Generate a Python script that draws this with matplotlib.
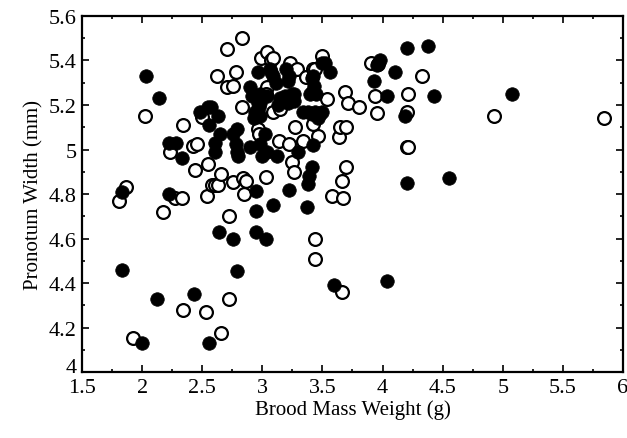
"""
Brood mass weight vs pronotum width scatter (filled vs open groups).
"""

import matplotlib
matplotlib.use("Agg")
import matplotlib.pyplot as plt
from matplotlib.ticker import MultipleLocator

# filled circles: (brood mass weight g, pronotum width mm)
filled_x = [
    1.83, 1.83, 2.00, 2.03, 2.14, 2.12, 2.22, 2.22, 2.28, 2.33, 2.43, 2.56,
    2.48, 2.55, 2.63, 2.56, 2.65, 2.61, 2.61, 2.57, 2.64, 2.76, 2.79,
    2.79, 2.76, 2.78, 2.79, 2.80, 2.90, 2.90, 2.91, 2.96, 2.94, 2.93, 2.96,
    2.98, 2.98, 3.04, 2.98, 2.97, 3.02, 2.98, 3.04, 3.00, 3.12,
    2.95, 2.95, 2.95, 3.03, 3.09, 3.22, 3.37, 3.38, 3.39, 3.41,
    3.30, 3.42, 3.34, 3.41, 3.48, 3.38, 3.44, 3.50, 3.46,
    3.41, 3.45, 3.40, 3.26, 3.15, 3.19, 3.25, 3.26, 3.21, 3.13,
    3.41, 3.43, 3.42, 3.50, 3.56, 3.52, 3.20, 3.22, 3.21,
    3.06, 3.09, 3.11, 3.07, 3.60, 3.93, 3.95, 3.98, 4.04, 4.10, 4.04,
    4.19, 4.20, 4.20, 4.38, 4.43, 4.55, 5.08,
]
filled_y = [
    4.81, 4.46, 4.13, 5.33, 5.23, 4.33, 4.80, 5.03, 5.03, 4.96, 4.35, 4.13,
    5.17, 5.19, 5.15, 5.11, 5.07, 4.99, 5.03, 5.19, 4.63, 4.60, 4.455,
    5.09, 5.07, 5.025, 4.99, 4.97, 5.01, 5.28, 5.24, 5.21, 5.17, 5.14, 5.35,
    5.15, 5.25, 5.24, 5.21, 5.19, 5.07, 5.025, 4.99, 4.97, 4.97,
    4.815, 4.725, 4.63, 4.60, 4.75, 4.82, 4.74, 4.845, 4.88, 4.92,
    4.99, 5.02, 5.17, 5.16, 5.16, 5.17, 5.17, 5.17, 5.14,
    5.26, 5.25, 5.25, 5.25, 5.23, 5.24, 5.25, 5.22, 5.21, 5.20,
    5.32, 5.285, 5.33, 5.39, 5.35, 5.39, 5.36, 5.33, 5.31,
    5.36, 5.33, 5.30, 5.35, 4.39, 5.31, 5.38, 5.40, 5.24, 5.35, 4.41,
    5.15, 5.455, 4.85, 5.465, 5.24, 4.87, 5.25,
]

# open circles
open_x = [
    1.81, 1.87, 1.92, 2.02, 2.17, 2.27, 2.33, 2.34, 2.34, 2.23, 2.42, 2.46,
    2.44, 2.53, 2.54, 2.55, 2.50, 2.58, 2.61, 2.63, 2.66, 2.66, 2.72, 2.72,
    2.76, 2.84, 2.86, 2.85, 2.62, 2.71, 2.83, 2.78, 2.71, 2.76, 2.83, 2.96,
    2.97, 2.99, 3.04, 3.07, 3.09, 3.04, 3.03, 3.09, 3.15, 3.03, 3.14, 3.22,
    3.27, 3.34, 3.46, 3.42, 3.25, 3.26, 3.23, 3.29, 3.36, 3.42, 3.44, 3.50,
    3.54, 3.44, 3.44, 3.58, 3.67, 3.66, 3.70, 3.66, 3.64, 3.65, 3.70, 3.69,
    3.71, 3.80, 3.90, 3.96, 3.94, 3.95, 4.20, 4.21, 4.20, 4.21, 4.33, 4.93,
    5.84,
]
open_y = [
    4.77, 4.83, 4.155, 5.15, 4.72, 4.78, 4.78, 4.28, 5.11, 4.99, 5.015, 5.025,
    4.91, 4.27, 4.79, 4.935, 5.146, 4.84, 4.84, 4.84, 4.89, 4.175, 4.70, 4.33,
    4.855, 4.87, 4.86, 4.80, 5.33, 5.45, 5.50, 5.35, 5.28, 5.285, 5.19, 5.09,
    5.07, 5.41, 5.44, 5.40, 5.41, 5.28, 5.25, 5.17, 5.18, 4.875, 5.04, 5.025,
    5.10, 5.04, 5.06, 5.115, 4.945, 4.90, 5.39, 5.36, 5.325, 5.36, 5.36, 5.42,
    5.225, 4.60, 4.51, 4.79, 4.78, 4.86, 4.92, 4.36, 5.056, 5.10, 5.10, 5.26,
    5.21, 5.19, 5.39, 5.385, 5.24, 5.165, 5.01, 5.01, 5.17, 5.25, 5.33, 5.15,
    5.14,
]

x_ticks = [1.5, 2, 2.5, 3, 3.5, 4, 4.5, 5, 5.5, 6]
x_tick_labels = ["1.5", "2", "2.5", "3", "3.5", "4", "4.5", "5", "5.5", "6"]
y_ticks = [4, 4.2, 4.4, 4.6, 4.8, 5, 5.2, 5.4, 5.6]
y_tick_labels = ["4", "4.2", "4.4", "4.6", "4.8", "5", "5.2", "5.4", "5.6"]

plt.rcParams["font.family"] = ["Liberation Serif", "DejaVu Serif"]

fig = plt.figure(figsize=(6.27, 4.39), dpi=100)
ax = fig.add_axes([0.1308, 0.1503, 0.8628, 0.811])

ax.scatter(open_x, open_y, s=85, facecolors="white", edgecolors="black",
           linewidths=1.6, zorder=2)
ax.scatter(filled_x, filled_y, s=95, c="black", edgecolors="black",
           linewidths=0.5, zorder=3)

ax.set_xlim(1.5, 6)
ax.set_ylim(4, 5.6)
ax.set_xticks(x_ticks, x_tick_labels)
ax.set_yticks(y_ticks, y_tick_labels)
ax.xaxis.set_minor_locator(MultipleLocator(0.25))
ax.yaxis.set_minor_locator(MultipleLocator(0.1))
ax.tick_params(which="both", direction="in", top=True, right=True,
               labelsize=16, width=1.2)
ax.tick_params(which="major", length=5)
ax.tick_params(which="minor", length=2.5)
ax.tick_params(axis="x", which="major", pad=4)
ax.tick_params(axis="y", which="major", pad=4)
for sp in ax.spines.values():
    sp.set_linewidth(1.6)

# lowest y label sits on its baseline so it clears the "1.5" below it
ax.get_yticklabels()[0].set_verticalalignment("baseline")

ax.set_xlabel("Brood Mass Weight (g)", fontsize=15, labelpad=2)
ax.set_ylabel("Pronotum Width (mm)", fontsize=15, labelpad=4)

fig.savefig("out.png", dpi=100)
